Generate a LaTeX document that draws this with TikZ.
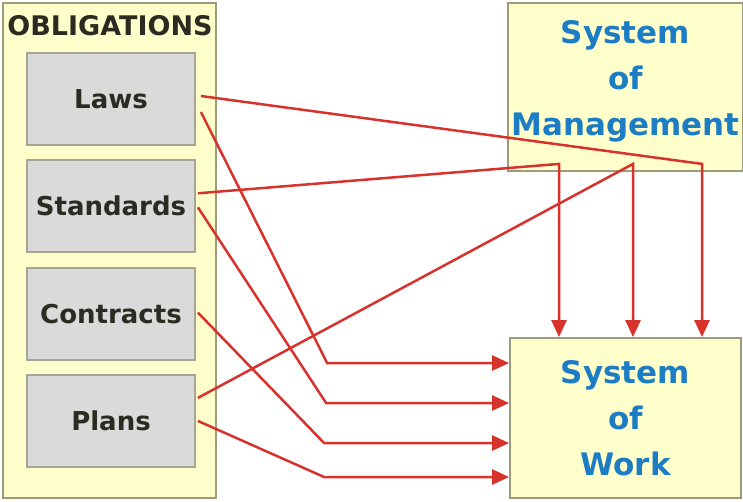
\documentclass[tikz,border=0pt]{standalone}
\usepackage{fontspec}
\setmainfont{DejaVu Sans}
\usepackage{tikz}
\usetikzlibrary{positioning,arrows.meta}
\definecolor{panelfill}{HTML}{FFFFCC}
\definecolor{panelline}{HTML}{9C9C7A}
\definecolor{itemfill}{HTML}{DADADA}
\definecolor{itemline}{HTML}{A5A596}
\definecolor{sysblue}{HTML}{1C7CC4}
\definecolor{flowred}{HTML}{D8322C}
\definecolor{inkdark}{HTML}{2B2B22}
\tikzset{
  panel/.style={rectangle, draw=panelline, line width=1.8pt, fill=panelfill},
  heading/.style={text=inkdark, font=\bfseries\fontsize{27}{30}\selectfont},
  item/.style={rectangle, minimum width=168pt, minimum height=92pt, draw=itemline, line width=1.8pt, fill=itemfill, text=inkdark, font=\bfseries\fontsize{26}{30}\selectfont},
  sys/.style={rectangle, minimum width=231pt, draw=panelline, line width=1.8pt, fill=panelfill, text=sysblue, align=center, font=\bfseries\fontsize{31}{46}\selectfont},
  flow/.style={draw=flowred, line width=2.5pt, -{Triangle[length=17pt,width=15pt]}},
  node distance=13.5pt
}
\begin{document}
\begin{tikzpicture}[x=1pt, y=-1pt]
	\useasboundingbox (0,0) rectangle (743,501);
	\node[panel, minimum width=213pt, minimum height=495pt] (obl) at (109.5,250.5) {};
	\node[heading] (oblhead) at (110,26) {OBLIGATIONS};
	\node[item] (laws) at (111,99) {Laws};
	\node[item, below=of laws] (standards) {Standards};
	\node[item, below=of standards] (contracts) {Contracts};
	\node[item, below=of contracts] (plans) {Plans};
	\node[sys, minimum height=168pt, text depth=18pt] (mgmt) at (625.5,87) {System\\of\\Management};
	\node[sys, minimum height=160pt] (work) at (625.5,418) {System\\of\\Work};
	
	% where the lines turn down out of the management box
	\coordinate (tapstd) at ([xshift=-66.5pt,yshift=8pt]mgmt.south);
	\coordinate (tapplans) at ([xshift=7.5pt,yshift=8pt]mgmt.south);
	\coordinate (taplaws) at ([xshift=76.5pt,yshift=8pt]mgmt.south);
	%
	\draw[flow] ([xshift=5pt,yshift=3pt]laws.east) -- (taplaws) -- (taplaws |- work.north);
	\draw[flow] ([xshift=2pt,yshift=13pt]standards.east) -- (tapstd) -- (tapstd |- work.north);
	\draw[flow] ([xshift=2pt,yshift=23pt]plans.east) -- (tapplans) -- (tapplans |- work.north);
	%
	\draw[flow] ([xshift=5pt,yshift=-13pt]laws.east) -- ([xshift=-182pt,yshift=55pt]work.west) -- ([yshift=55pt]work.west);
	\draw[flow] ([xshift=2pt,yshift=-1pt]standards.east) -- ([xshift=-183pt,yshift=15pt]work.west) -- ([yshift=15pt]work.west);
	\draw[flow] ([xshift=2pt,yshift=1pt]contracts.east) -- ([xshift=-185pt,yshift=-25pt]work.west) -- ([yshift=-25pt]work.west);
	\draw[flow] ([xshift=2pt,yshift=0pt]plans.east) -- ([xshift=-185pt,yshift=-59pt]work.west) -- ([yshift=-59pt]work.west);
\end{tikzpicture}
\end{document}
